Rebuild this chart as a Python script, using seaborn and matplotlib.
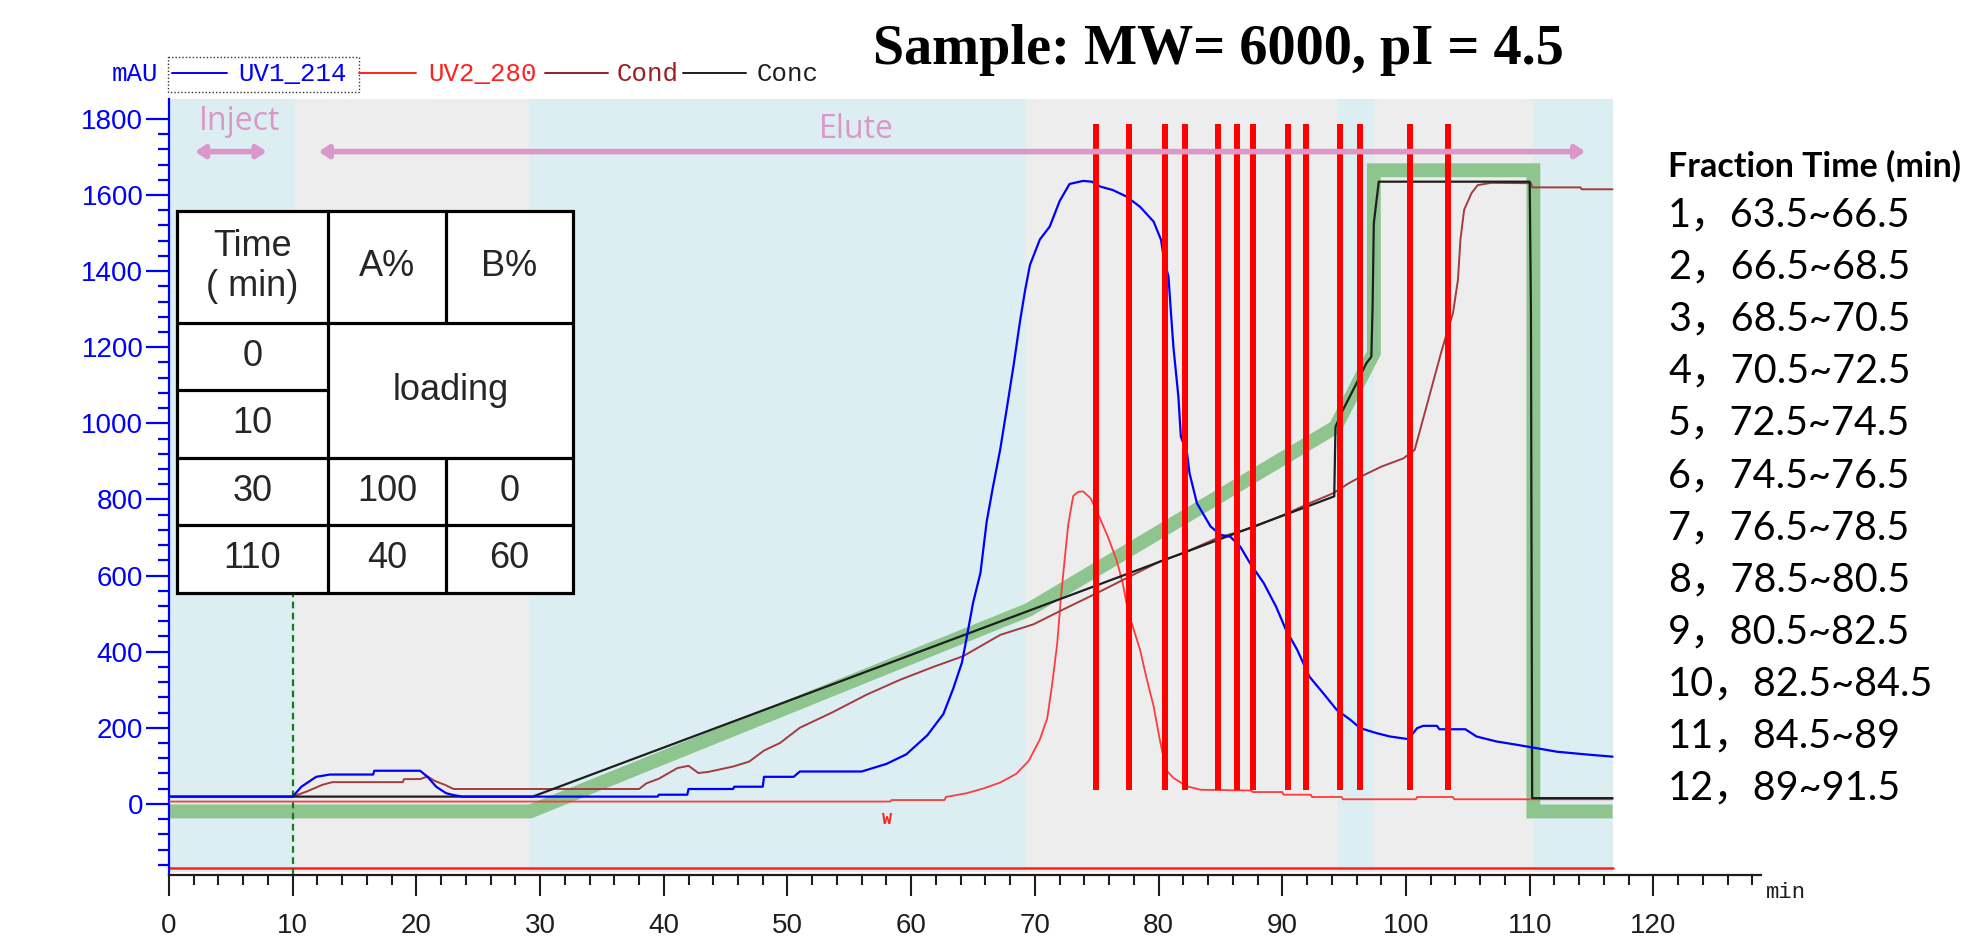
import matplotlib
matplotlib.use("Agg")
import matplotlib.pyplot as plt
import seaborn as sns
from matplotlib.ticker import MultipleLocator, FixedLocator
from matplotlib.patches import Rectangle

# ---------------- data ----------------
uv1_x = [0, 10, 10.7, 11.9, 13, 16.5, 16.6, 20.3, 20.9, 21.6, 22.4, 23, 23.7, 39.5, 39.6,
         41.9, 42, 45.6, 45.7, 48, 48.1, 50.5, 51, 56, 57, 58, 59.6, 61.3, 62.6, 63.4,
         64.1, 64.5, 65.0, 65.6, 66.1, 66.6, 67.2, 67.7, 68.3, 68.8, 69.2, 69.6, 70.4, 71.2, 72.0,
         72.8, 73.9, 74.6, 75.3, 76.3, 77.4, 78.5, 79.6, 80.2, 80.4, 80.8, 81.0, 81.2, 81.6, 81.8,
         82.3, 82.5, 83.1, 84.2, 85.0, 85.8, 86.6, 87.4, 88.5, 89.5, 90.3, 91.2, 92.2, 93.3, 94.4,
         95.5, 96.3, 97.6, 98.7, 100.2, 100.9, 101.4, 102.5, 102.7, 104.8, 105.7, 107.3, 109.0,
         110.6, 112.2, 114.5, 116.7]
uv1_y = [19, 19, 45, 71, 77, 77, 87, 87, 71, 45, 28, 23, 19, 19, 24,
         24, 39, 39, 45, 45, 71, 71, 85, 85, 95, 105, 130, 180, 236, 303,
         371, 439, 528, 607, 741, 831, 932, 1033, 1157, 1269, 1348, 1416, 1483, 1517, 1584,
         1629, 1637, 1635, 1622, 1613, 1596, 1569, 1530, 1482, 1438, 1385, 1290, 1200, 1070, 965,
         922, 869, 790, 729, 707, 702, 676, 632, 580, 518, 457, 405, 334, 291, 247,
         221, 199, 186, 177, 170, 199, 205, 205, 196, 196, 177, 164, 155,
         146, 137, 130, 124]

uv2_x = [0, 58.3, 58.4, 62.7, 62.8, 64.5, 65.8, 67.2, 68.5, 69.5, 70.4, 71.0, 71.4, 71.8, 72.1,
         72.4, 72.7, 73.1, 73.5, 73.9, 74.5, 75.0, 75.9, 76.6, 77.1, 77.5, 78.0, 78.5, 79.0, 79.6,
         80.1, 80.6, 81.2, 82.3, 83.4, 87.5, 87.6, 90.0, 90.1, 92.3, 92.4, 94.8, 94.9, 100.8,
         100.9, 103.8, 103.9, 116.7]
uv2_y = [6, 6, 10, 10, 18, 28, 40, 56, 79, 113, 169, 225, 315, 420, 540,
         640, 735, 809, 820, 821, 803, 770, 702, 641, 580, 510, 457, 405, 334, 256,
         168, 89, 68, 46, 37, 35, 31, 31, 24, 24, 18, 18, 12, 12,
         18, 18, 12, 12]

cond_x = [10, 11.1, 12.4, 13.2, 18.9, 19.0, 20.3, 20.9, 21.5, 22.3, 23.0, 38.0, 38.6, 39.6, 41.1,
          42.0, 42.8, 43.6, 45.6, 46.9, 48.1, 49.4, 51.0, 53.6, 56.4, 59.1, 61.8, 64.2, 67.2, 69.9,
          72.3, 74.9, 77.4, 80.1, 82.0, 84.7, 87.4, 90.1, 92.2, 94.1, 95.4, 96.6, 98.0, 99.8, 100.7,
          101.8, 102.9, 103.8, 104.2, 104.4, 104.7, 105.3, 105.8, 106.9, 110.1, 110.2, 114.1, 114.2,
          116.7]
cond_y = [19, 32, 50, 57, 57, 65, 65, 72, 60, 50, 39, 39, 54, 66, 94,
          100, 81, 84, 98, 111, 140, 160, 200, 240, 287, 326, 360, 388, 444, 472,
          511, 552, 593, 637, 659, 698, 724, 759, 790, 816, 843, 864, 886, 908, 930,
          1061, 1193, 1290, 1377, 1482, 1561, 1605, 1626, 1632, 1631, 1620, 1620, 1615,
          1615]

conc_x = [0, 29.4, 94.2, 94.3, 94.9, 96.0, 96.8, 97.2, 97.3, 97.4, 97.8, 110.0, 110.1, 110.2, 116.7]
conc_y = [19, 19, 808, 991, 1035, 1105, 1158, 1175, 1307, 1526, 1635, 1635, 1300, 15, 15]

plan_x = [0, 29.2, 69.5, 94.3, 97.4, 97.4, 110.3, 110.3, 116.7]
plan_y = [-20, -20, 510, 990, 1185, 1665, 1665, -20, -20]

fraction_cuts = [74.9, 77.6, 80.5, 82.1, 84.8, 86.3, 87.6, 90.5, 91.9, 94.7, 96.3, 100.3, 103.4]
cut_low, cut_high = 37, 1787

shade_edges = [0, 10.2, 29.1, 69.3, 94.5, 97.4, 110.3, 116.7]
shade_kinds = ["b", "g", "b", "g", "b", "g", "b"]

inject_span = [2.1, 7.9]
elute_span = [12.1, 114.5]
inject_time = 10.0

x_ticks = list(range(0, 121, 10))
y_ticks = list(range(0, 1801, 200))

legend_names = ["UV1_214", "UV2_280", "Cond", "Conc"]
title_text = "Sample: MW= 6000, pI = 4.5"

frac_ids = list(range(1, 13))
frac_ranges = ["63.5~66.5", "66.5~68.5", "68.5~70.5", "70.5~72.5", "72.5~74.5", "74.5~76.5",
               "76.5~78.5", "78.5~80.5", "80.5~82.5", "82.5~84.5", "84.5~89", "89~91.5"]

tab_time = ["0", "10", "30", "110"]
tab_a = ["100", "40"]
tab_b = ["0", "60"]

# ---------------- style ----------------
sns.set_theme(style="ticks")
plt.rcParams["font.family"] = ["Liberation Sans", "DejaVu Sans"]

BLUE = "#0000ff"
RED = "#ff3b3b"
BROWN = "#a33c3c"
BLACK = "#1e1e1e"
GREEN = "#8ec58e"
PINK = "#db97c8"
SH_BLUE = "#ddeef3"
SH_GRAY = "#ededed"

W, H = 1976, 946
fig = plt.figure(figsize=(W / 100, H / 100), dpi=100)
ax = fig.add_axes([169 / W, 1 - 875 / H, (1761 - 169) / W, (875 - 99.1) / H])
ax.set_xlim(0, 128.7)
ax.set_ylim(-187, 1852)
ax.set_facecolor("white")

# background bands
for x0, x1, k in zip(shade_edges[:-1], shade_edges[1:], shade_kinds):
    ax.add_patch(Rectangle((x0, -179), x1 - x0, 1852 + 179,
                           facecolor=SH_BLUE if k == "b" else SH_GRAY, lw=0, zorder=0))

# bottom red line and injection marker
ax.plot([0, shade_edges[-1]], [-168, -168], color="#ff2020", lw=1.8, zorder=2)
ax.plot([inject_time, inject_time], [-187, 560], color="#1c7a1c", lw=1.6,
        ls=(0, (3, 2)), zorder=2)

# planned gradient band
sns.lineplot(x=plan_x, y=plan_y, ax=ax, color=GREEN, linewidth=10, estimator=None,
             sort=False, solid_joinstyle="miter", solid_capstyle="butt", zorder=1)

# curves
sns.lineplot(x=uv2_x, y=uv2_y, ax=ax, color=RED, linewidth=1.3, estimator=None, sort=False, zorder=3)
sns.lineplot(x=cond_x, y=cond_y, ax=ax, color=BROWN, linewidth=1.4, estimator=None, sort=False, zorder=3)
sns.lineplot(x=conc_x, y=conc_y, ax=ax, color=BLACK, linewidth=1.6, estimator=None, sort=False, zorder=3)
sns.lineplot(x=uv1_x, y=uv1_y, ax=ax, color=BLUE, linewidth=1.6, estimator=None, sort=False, zorder=3)

# fraction cut lines
ax.vlines(fraction_cuts, cut_low, cut_high, color="#ff0000", lw=4.3, zorder=4)

# Inject / Elute arrows
ap = dict(arrowstyle="<|-|>,head_length=0.45,head_width=0.3", color=PINK, lw=4,
          shrinkA=0, shrinkB=0)
ax.annotate("", xy=(inject_span[1], 1714), xytext=(inject_span[0], 1714), arrowprops=ap, zorder=4)
ax.annotate("", xy=(elute_span[1], 1714), xytext=(elute_span[0], 1714), arrowprops=ap, zorder=4)
ax.text(5.7, 1792, "Inject", color=PINK, fontsize=23, family="Open Sans", ha="center", va="center")
ax.text(55.6, 1771, "Elute", color=PINK, fontsize=23, family="Open Sans", ha="center", va="center")
ax.text(58.0, -42, "W", color="#ff2020", fontsize=12, family="Liberation Mono",
        weight="bold", ha="center", va="center")

# axes styling
for s in ["top", "right"]:
    ax.spines[s].set_visible(False)
ax.spines["left"].set_color(BLUE)
ax.spines["left"].set_linewidth(1.6)
ax.spines["bottom"].set_color(BLACK)
ax.spines["bottom"].set_linewidth(1.6)
ax.xaxis.set_major_locator(FixedLocator(x_ticks))
ax.xaxis.set_minor_locator(MultipleLocator(2))
ax.yaxis.set_major_locator(FixedLocator(y_ticks))
ax.yaxis.set_minor_locator(FixedLocator(list(range(-160, 1801, 40))))
ax.tick_params(axis="x", which="major", length=15, width=1.5, direction="out",
               colors=BLACK, labelsize=20, pad=12, bottom=True)
ax.tick_params(axis="x", which="minor", length=7, width=1.5, direction="out",
               color=BLACK, bottom=True)
ax.tick_params(axis="y", which="major", length=16.5, width=1.6, direction="out",
               colors=BLUE, labelsize=20, pad=2, left=True)
ax.tick_params(axis="y", which="minor", length=8, width=1.6, direction="out",
               color=BLUE, left=True)
ax.set_xlabel("")
ax.set_ylabel("")

# ---------------- overlay (pixel coordinates) ----------------
ov = fig.add_axes([0, 0, 1, 1], zorder=10)
ov.set_xlim(0, W)
ov.set_ylim(H, 0)
ov.axis("off")
ov.patch.set_alpha(0)

# legend row
mono = "Liberation Mono"
ov.text(112, 74, "mAU", color=BLUE, fontsize=18.5, family=mono, ha="left", va="center")
ov.add_patch(Rectangle((168, 57), 191, 35, fill=False, ec="#333333", lw=1.0, ls=(0, (1, 1.5))))
leg_items = [(172, 227, 238, BLUE), (359, 416, 428, "#ff2020"), (545, 608, 617, "#9b1e1e"),
             (683, 746, 757, BLACK)]
for (l0, l1, tx, c), name in zip(leg_items, legend_names):
    ov.plot([l0, l1], [73, 73], color=c, lw=1.4)
    ov.text(tx, 74, name, color=c, fontsize=18.5, family=mono, ha="left", va="center")

# title
ov.text(873, 50, title_text, fontsize=40.5, family="Liberation Serif", weight="bold",
        ha="left", va="center", color="black")

# "min" unit label
ov.text(1766, 892, "min", fontsize=16, family=mono, ha="left", va="center", color=BLACK)

# fraction list
ov.text(1668, 166, "Fraction Time (min)", fontsize=24.5, weight="bold",
        family=["Lato", "Noto Sans CJK SC"], ha="left", va="center", color="black")
for i, (fid, rng) in enumerate(zip(frac_ids, frac_ranges)):
    ov.text(1668, 215 + 52.1 * i, f"{fid}，{rng}", fontsize=28.5,
            family=["Lato", "Noto Sans CJK SC"], ha="left", va="center", color="black")

# gradient table
tl, tr, c1, c2 = 176.7, 572.7, 328.3, 446.0
rows = [210.7, 322.7, 390.0, 457.7, 525.0, 592.7]
tlw = 2.3
ov.add_patch(Rectangle((tl, rows[0]), tr - tl, rows[-1] - rows[0], facecolor="white",
                       edgecolor="black", lw=tlw))
ov.plot([c1, c1], [rows[0], rows[-1]], color="black", lw=tlw)
ov.plot([c2, c2], [rows[0], rows[1]], color="black", lw=tlw)
ov.plot([c2, c2], [rows[3], rows[-1]], color="black", lw=tlw)
for r in (rows[1], rows[3], rows[4]):
    ov.plot([tl, tr], [r, r], color="black", lw=tlw)
ov.plot([tl, c1], [rows[2], rows[2]], color="black", lw=tlw)

cx0, cx1, cx2 = (tl + c1) / 2, (c1 + c2) / 2, (c2 + tr) / 2
tfs = 26
ov.text(cx0, (rows[0] + rows[1]) / 2, "Time\n( min)", fontsize=tfs, ha="center", va="center")
ov.text(cx1, (rows[0] + rows[1]) / 2, "A%", fontsize=tfs, ha="center", va="center")
ov.text(cx2, (rows[0] + rows[1]) / 2, "B%", fontsize=tfs, ha="center", va="center")
for k, t in enumerate(tab_time):
    ov.text(cx0, (rows[k + 1] + rows[k + 2]) / 2, t, fontsize=tfs, ha="center", va="center")
ov.text((c1 + tr) / 2, rows[2], "loading", fontsize=tfs, ha="center", va="center")
for k, (a, b) in enumerate(zip(tab_a, tab_b)):
    ov.text(cx1, (rows[k + 3] + rows[k + 4]) / 2, a, fontsize=tfs, ha="center", va="center")
    ov.text(cx2, (rows[k + 3] + rows[k + 4]) / 2, b, fontsize=tfs, ha="center", va="center")

fig.savefig("out.png", dpi=100, facecolor="white")
